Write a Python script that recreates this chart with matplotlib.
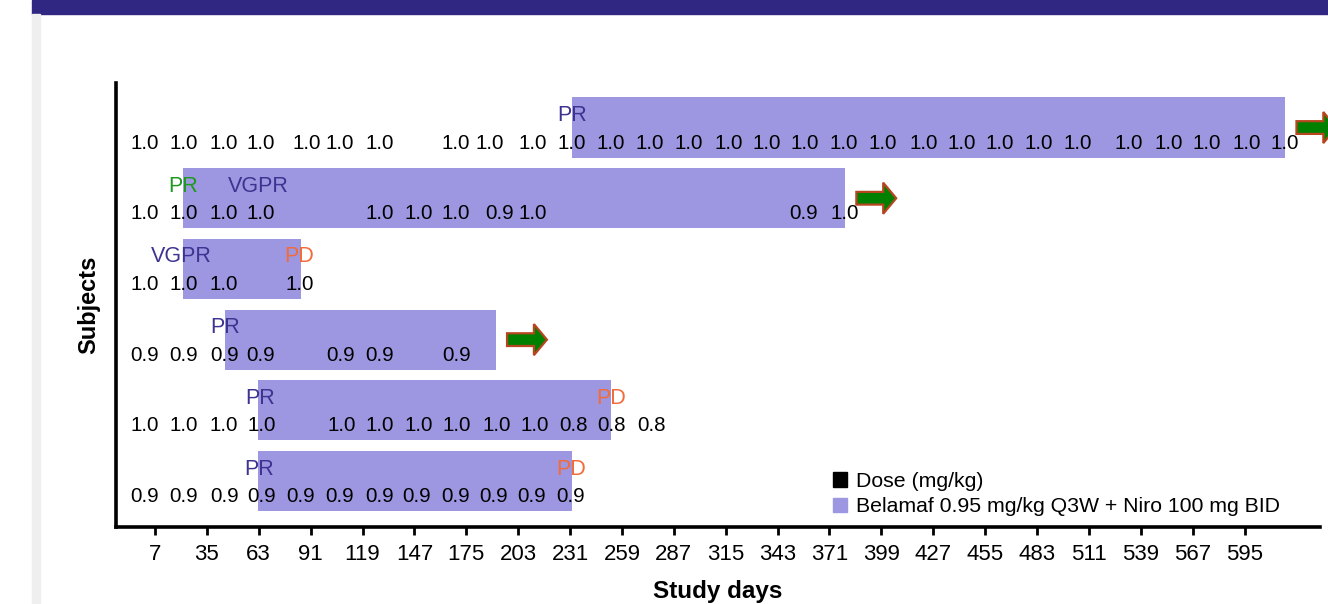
import matplotlib
matplotlib.use("Agg")
import matplotlib.pyplot as plt
from matplotlib.patches import Patch, Rectangle, FancyArrow

plt.rcParams['font.family'] = ['Liberation Sans', 'DejaVu Sans']

# subjects listed top to bottom
bar_start = [232, 22, 22, 45, 62.5, 62.5]
bar_end = [617, 379.5, 86, 191, 253, 232]
ongoing = [True, True, False, True, False, False]

dose_days_s1 = [1.6, 22.3, 44.3, 64.2, 88.9, 106.5, 128.1, 169.5, 187.8, 210.8,
                231.9, 253.1, 274.2, 294.8, 316.4, 337.1, 357.8, 378.8, 399.7,
                421.6, 442.4, 463, 483.7, 505, 532.3, 553.9, 574.6, 596.2, 616.9]
dose_vals_s1 = [1.0] * 29
dose_days_s2 = [1.6, 22.3, 44.3, 64.2, 128.1, 149.1, 169.5, 193.2, 210.8, 356.9, 379.4]
dose_vals_s2 = [1.0, 1.0, 1.0, 1.0, 1.0, 1.0, 1.0, 0.9, 1.0, 0.9, 1.0]
dose_days_s3 = [1.6, 22.3, 44.3, 85.3]
dose_vals_s3 = [1.0, 1.0, 1.0, 1.0]
dose_days_s4 = [1.6, 22.3, 44.3, 64.2, 106.9, 128.1, 169.5]
dose_vals_s4 = [0.9] * 7
dose_days_s5 = [1.6, 22.3, 44.3, 64.6, 107.8, 128.4, 149.1, 170.0, 191.4, 212.1,
                232.8, 253.5, 275.1]
dose_vals_s5 = [1.0] * 10 + [0.8] * 3
dose_days_s6 = [1.6, 22.3, 44.3, 64.6, 85.3, 106.5, 128.1, 148.2, 169.2, 189.8,
                210.3, 231.4]
dose_vals_s6 = [0.9] * 12

dose_days = [dose_days_s1, dose_days_s2, dose_days_s3, dose_days_s4, dose_days_s5, dose_days_s6]
dose_vals = [dose_vals_s1, dose_vals_s2, dose_vals_s3, dose_vals_s4, dose_vals_s5, dose_vals_s6]

resp_days = [[232], [22, 63], [21, 85], [45], [64, 253], [63, 231.4]]
resp_labels = [["PR"], ["PR", "VGPR"], ["VGPR", "PD"], ["PR"], ["PR", "PD"], ["PR", "PD"]]
resp_colors = [["#3d3391"], ["#1e9a1e", "#3d3391"], ["#3d3391", "#f26b3a"],
               ["#3d3391"], ["#3d3391", "#f26b3a"], ["#3d3391", "#f26b3a"]]

xticks = list(range(7, 600, 28))

bar_color = "#9d96e0"

fig = plt.figure(figsize=(13.28, 6.04), dpi=100)
# header banner and side strip
fig.patches.append(Rectangle((32 / 1328, 1 - 14 / 604), 1, 14 / 604,
                             transform=fig.transFigure, color="#2f2781", zorder=0))
fig.patches.append(Rectangle((32 / 1328, 0), 8 / 1328, 1 - 14 / 604,
                             transform=fig.transFigure, color="#efefef", zorder=0))

ax = fig.add_axes([115.5 / 1328, 1 - 527 / 604, (1320 - 115.5) / 1328, (527 - 83) / 604])

n = len(bar_start)
for i in range(n):
    y = n - 1 - i
    ax.barh(y, bar_end[i] - bar_start[i], left=bar_start[i], height=0.85,
            color=bar_color, zorder=1)
    for d, v in zip(dose_days[i], dose_vals[i]):
        ax.text(d, y - 0.22, "%.1f" % v, ha="center", va="center",
                fontsize=14.8, color="black", zorder=3)
    for d, lab, c in zip(resp_days[i], resp_labels[i], resp_colors[i]):
        ax.text(d, y + 0.17, lab, ha="center", va="center",
                fontsize=15.5, color=c, zorder=3)
    if ongoing[i]:
        arr = FancyArrow(bar_end[i] + 6, y, 21.5, 0, width=0.18, head_width=0.44,
                         head_length=7, length_includes_head=True,
                         facecolor="#008000", edgecolor="#b5461f", linewidth=1.6,
                         clip_on=False, zorder=4)
        ax.add_patch(arr)

ax.set_xlim(-14.3, 635.7)
ax.set_ylim(-0.65, 5.63)
ax.set_yticks([])
ax.set_xticks(xticks)
ax.set_xticklabels([str(t) for t in xticks], fontsize=16)
ax.tick_params(axis="x", length=6, width=2, pad=6, direction="out")
for s in ["top", "right"]:
    ax.spines[s].set_visible(False)
for s in ["left", "bottom"]:
    ax.spines[s].set_linewidth(2.6)
ax.set_xlabel("Study days", fontsize=17.5, fontweight="bold", labelpad=11)
ax.set_ylabel("Subjects", fontsize=17, fontweight="bold", labelpad=11)

handles = [Patch(color="black", label="Dose (mg/kg)"),
           Patch(color=bar_color, label="Belamaf 0.95 mg/kg Q3W + Niro 100 mg BID")]
fig.legend(handles=handles, loc="upper left", bbox_to_anchor=(833 / 1328, 1 - 472 / 604),
           frameon=False, fontsize=15.3, handlelength=0.68, handleheight=0.68,
           handletextpad=0.4, labelspacing=0.3, borderpad=0, borderaxespad=0)

fig.savefig("out.png", dpi=100)
